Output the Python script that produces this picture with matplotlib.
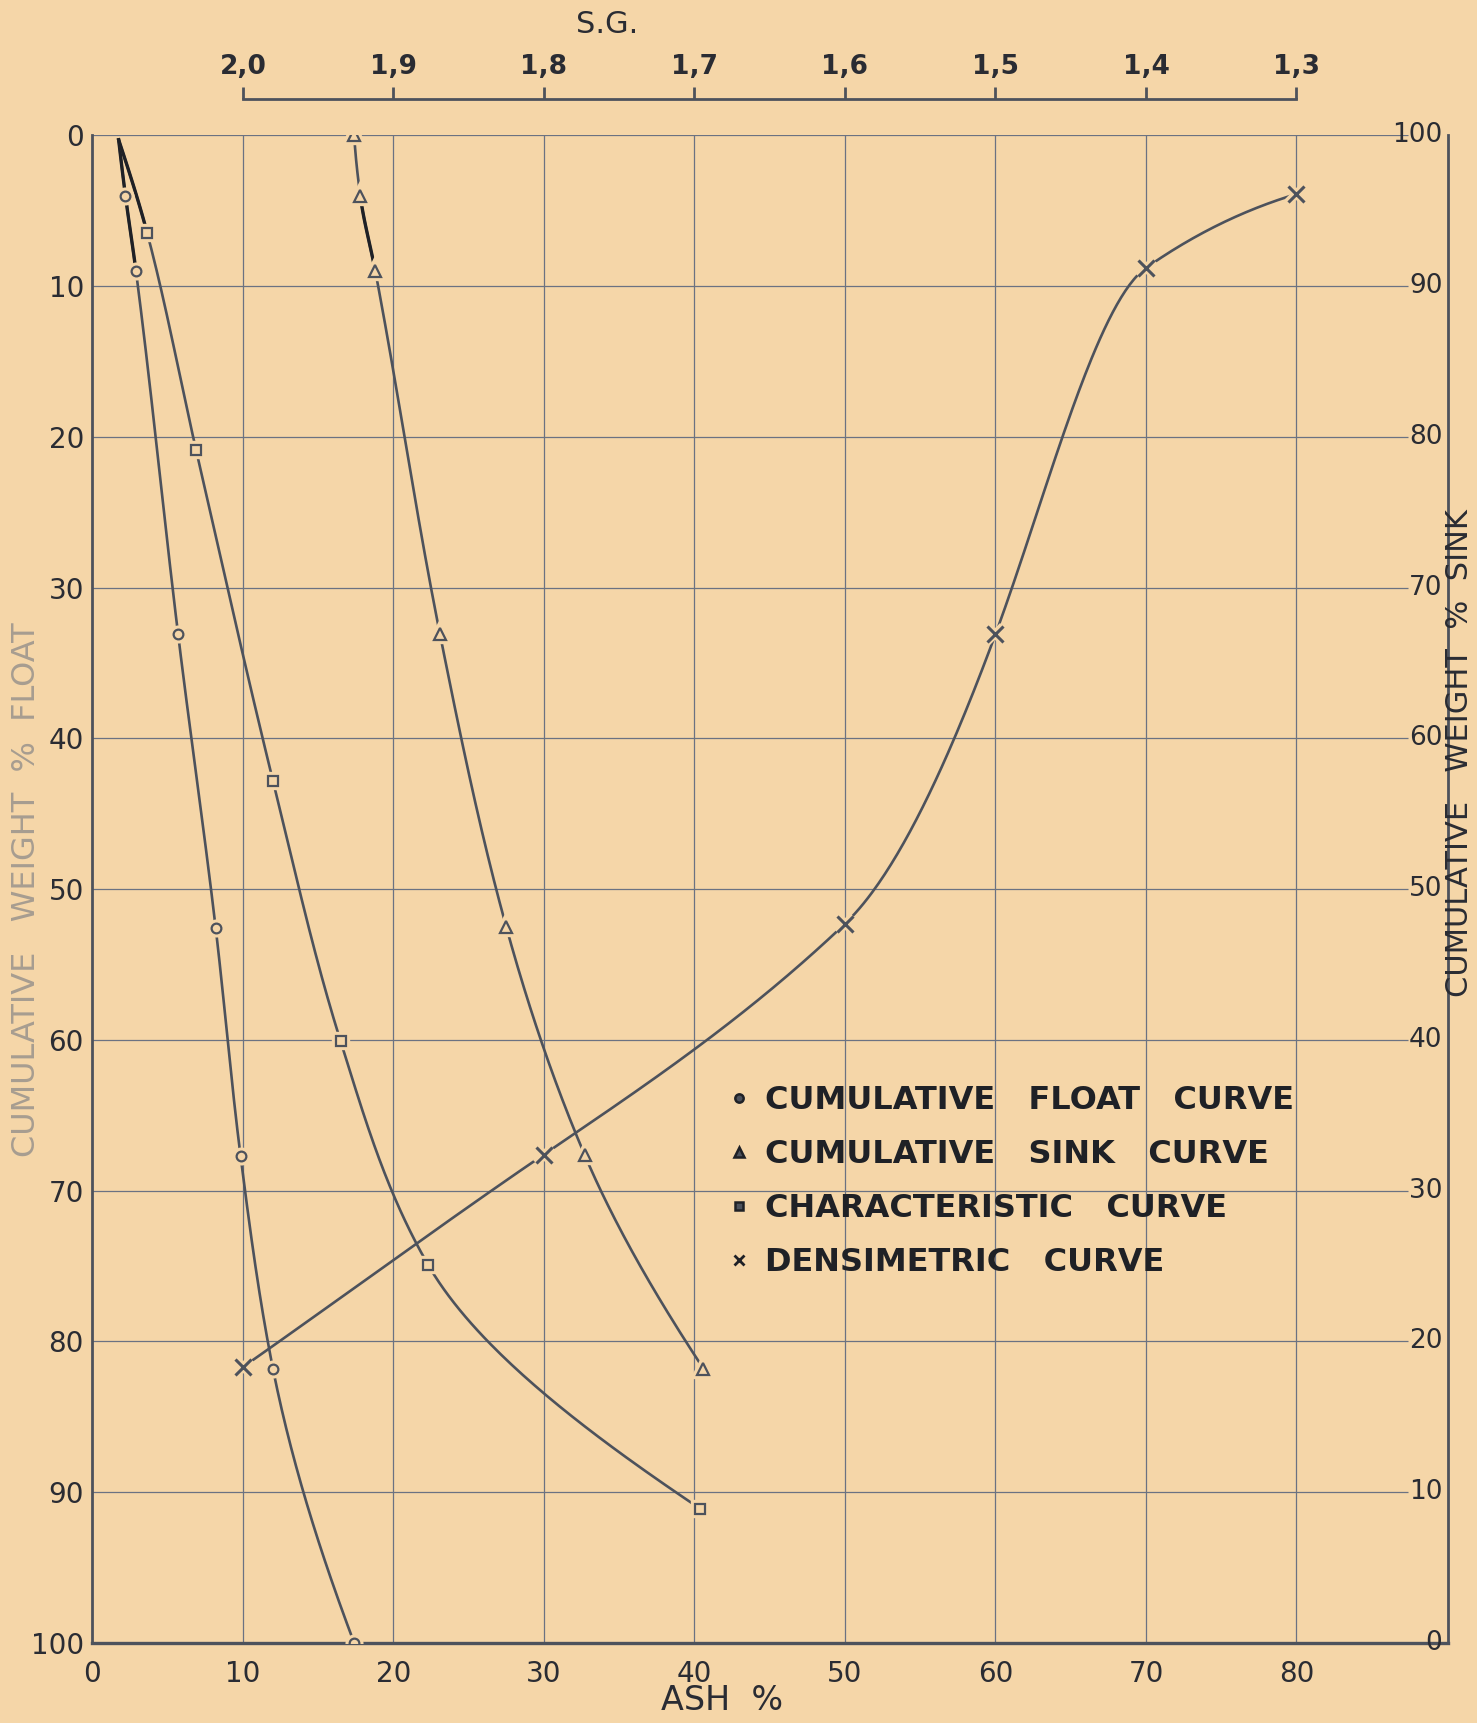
import numpy as np
import matplotlib
matplotlib.use('Agg')
import matplotlib.pyplot as plt
from matplotlib.lines import Line2D

# --- data ---
# cumulative float curve: ash %, cumulative weight % float
float_ash = [1.75, 2.2, 2.9, 5.7, 8.2, 9.85, 12.0, 17.4]
float_wt = [0.3, 4.0, 9.0, 33.1, 52.6, 67.7, 81.8, 100.0]

# cumulative sink curve
sink_ash = [17.4, 17.8, 18.8, 23.1, 27.5, 32.7, 40.6]
sink_wt = [0.0, 4.0, 9.0, 33.1, 52.5, 67.6, 81.8]

# characteristic curve
char_ash = [1.75, 3.65, 6.9, 12.0, 16.5, 22.3, 40.4]
char_wt = [0.3, 6.5, 20.9, 42.8, 60.1, 74.9, 91.1]

# densimetric curve: specific gravity, cumulative weight % float,
# and the slope of the drawn curve (weight per ash unit) at each point
dens_sg = [2.0, 1.8, 1.6, 1.5, 1.4, 1.3]
dens_wt = [81.7, 67.6, 52.3, 33.1, 8.8, 3.9]
dens_slope = [-0.70, -0.68, -0.95, -2.7, -0.7, -0.3]

ash_ticks = [0, 10, 20, 30, 40, 50, 60, 70, 80]
float_ticks = [0, 10, 20, 30, 40, 50, 60, 70, 80, 90, 100]
sink_ticks = [100, 90, 80, 70, 60, 50, 40, 30, 20, 10, 0]
sg_ticks = [2.0, 1.9, 1.8, 1.7, 1.6, 1.5, 1.4, 1.3]

legend_labels = ['CUMULATIVE   FLOAT   CURVE',
                 'CUMULATIVE   SINK   CURVE',
                 'CHARACTERISTIC   CURVE',
                 'DENSIMETRIC   CURVE']

paper = '#F5D6A8'
ink = '#4d525c'
dark = '#1f2126'
gridc = '#6b7282'
textc = '#2a2c33'


def ash2sg(a):
    return 2.0 - (np.asarray(a, dtype=float) - 10) / 100


def sg2ash(s):
    return 10 + (2.0 - np.asarray(s, dtype=float)) * 100


def hermite(xk, yk, mk, xs):
    xk = np.asarray(xk, float)
    yk = np.asarray(yk, float)
    mk = np.asarray(mk, float)
    h = np.diff(xk)
    idx = np.clip(np.searchsorted(xk, xs) - 1, 0, len(h) - 1)
    t = (xs - xk[idx]) / h[idx]
    h00 = 2 * t**3 - 3 * t**2 + 1
    h10 = t**3 - 2 * t**2 + t
    h01 = -2 * t**3 + 3 * t**2
    h11 = t**3 - t**2
    return (h00 * yk[idx] + h10 * h[idx] * mk[idx]
            + h01 * yk[idx + 1] + h11 * h[idx] * mk[idx + 1])


def pchip(xk, yk, xs):
    # monotone cubic through the read points
    xk = np.asarray(xk, float)
    yk = np.asarray(yk, float)
    h = np.diff(xk)
    d = np.diff(yk) / h
    m = np.zeros_like(xk)
    for i in range(1, len(xk) - 1):
        if d[i - 1] * d[i] > 0:
            w1 = 2 * h[i] + h[i - 1]
            w2 = h[i] + 2 * h[i - 1]
            m[i] = (w1 + w2) / (w1 / d[i - 1] + w2 / d[i])

    def end(h0, h1, d0, d1):
        m0 = ((2 * h0 + h1) * d0 - h0 * d1) / (h0 + h1)
        if np.sign(m0) != np.sign(d0):
            m0 = 0.0
        elif np.sign(d0) != np.sign(d1) and abs(m0) > abs(3 * d0):
            m0 = 3 * d0
        return m0

    m[0] = end(h[0], h[1], d[0], d[1])
    m[-1] = end(h[-1], h[-2], d[-1], d[-2])
    return hermite(xk, yk, m, xs)


fig = plt.figure(figsize=(14.77, 17.23), dpi=100, facecolor=paper)
ax = fig.add_axes([0.0625, 0.0464, 0.9182, 0.8751])
ax.set_facecolor(paper)
ax.set_xlim(0, 90.1)
ax.set_ylim(100, 0)

# grid
ax.vlines(ash_ticks[1:], 0, 100, color=gridc, lw=0.9, zorder=1)
ax.hlines(float_ticks[:-1], 0, 87.4, color=gridc, lw=0.9, zorder=1)


def markers(x, y, marker, ms, mfc=paper, mew=1.6):
    # paper coloured ring first so the curve stops short of each mark
    ax.plot(x, y, ls='none', marker=marker, ms=ms, mfc=paper, mec=paper,
            mew=6, zorder=3)
    ax.plot(x, y, ls='none', marker=marker, ms=ms, mfc=mfc, mec=ink,
            mew=mew, zorder=4)


def curve_by_weight(ash, wt, marker, ms, ink_to=None, ink_from=0, start_mark=0):
    ys = np.linspace(wt[0], wt[-1], 400)
    xs = pchip(wt, ash, ys)
    ax.plot(xs, ys, color=ink, lw=1.9, zorder=2, solid_capstyle='round')
    if ink_to is not None:
        ys2 = np.linspace(wt[ink_from], wt[ink_to], 60)
        ax.plot(pchip(wt, ash, ys2), ys2, color=dark, lw=2.4, zorder=2)
    markers(ash[start_mark:], wt[start_mark:], marker, ms)


curve_by_weight(float_ash, float_wt, 'o', 7, ink_to=2, start_mark=1)
curve_by_weight(char_ash, char_wt, 's', 7, ink_to=1, start_mark=1)
curve_by_weight(sink_ash, sink_wt, '^', 9, ink_to=2, ink_from=1)

dens_ash = sg2ash(dens_sg)
xs = np.linspace(dens_ash[0], dens_ash[-1], 500)
ax.plot(xs, hermite(dens_ash, dens_wt, dens_slope, xs), color=ink, lw=1.9,
        zorder=2)
ax.plot(dens_ash, dens_wt, ls='none', marker='x', ms=11, mec=paper, mew=6,
        zorder=3)
ax.plot(dens_ash, dens_wt, ls='none', marker='x', ms=11, mec=ink, mew=2.2,
        zorder=4)

# spines and ticks
ax.spines['top'].set_visible(False)
ax.spines['left'].set_linewidth(2.0)
ax.spines['bottom'].set_linewidth(2.4)
ax.spines['right'].set_linewidth(2.0)
for s in ['left', 'bottom', 'right']:
    ax.spines[s].set_color(ink)

ax.set_xticks(ash_ticks)
ax.set_yticks(float_ticks)
ax.tick_params(length=0, labelsize=20, labelcolor=textc)
ax.tick_params(axis='x', pad=12)
ax.tick_params(axis='y', pad=6)

for s in sink_ticks:
    ax.text(89.7, 100 - s, str(s), ha='right', va='center', fontsize=19,
            color=textc, zorder=5)

# specific gravity scale on top
sec = ax.secondary_xaxis('top', functions=(ash2sg, sg2ash))
sec.set_xticks(sg_ticks)
sec.set_xticklabels([f'{v:.1f}'.replace('.', ',') for v in sg_ticks])
sec.spines['top'].set_position(('outward', 26))
sec.spines['top'].set_bounds(2.0, 1.3)
sec.spines['top'].set_linewidth(2.0)
sec.spines['top'].set_color(ink)
sec.tick_params(length=9, width=2.0, color=ink, labelsize=19, labelcolor=textc,
                pad=5)
for lab in sec.get_xticklabels():
    lab.set_fontweight('bold')

fig.text(0.411, 0.986, 'S.G.', ha='center', va='center', fontsize=22,
         color=textc)
fig.text(0.489, 0.0128, 'ASH  %', ha='center', va='center', fontsize=24,
         color=textc)
fig.text(0.018, 0.4835, 'CUMULATIVE   WEIGHT  %  FLOAT', rotation=90,
         ha='center', va='center', fontsize=23, color='#a79d90')
fig.text(0.988, 0.563, 'CUMULATIVE   WEIGHT  %  SINK', rotation=90,
         ha='center', va='center', fontsize=22, color=textc)

handles = [
    Line2D([], [], ls='none', marker='o', ms=6, mfc=ink, mec=dark, mew=1.8),
    Line2D([], [], ls='none', marker='^', ms=7, mfc=ink, mec=dark, mew=1.8),
    Line2D([], [], ls='none', marker='s', ms=6, mfc=ink, mec=dark, mew=1.8),
    Line2D([], [], ls='none', marker='x', ms=7, mec=dark, mew=2.0),
]
leg = ax.legend(handles, legend_labels, loc='upper left',
                bbox_to_anchor=(0.470, 0.370), frameon=False,
                prop={'size': 23, 'weight': 'bold'},
                handlelength=0.6, handletextpad=0.5, labelspacing=0.72,
                borderpad=0, borderaxespad=0)
for t in leg.get_texts():
    t.set_color(dark)

fig.savefig('out.png', dpi=100, facecolor=paper)
